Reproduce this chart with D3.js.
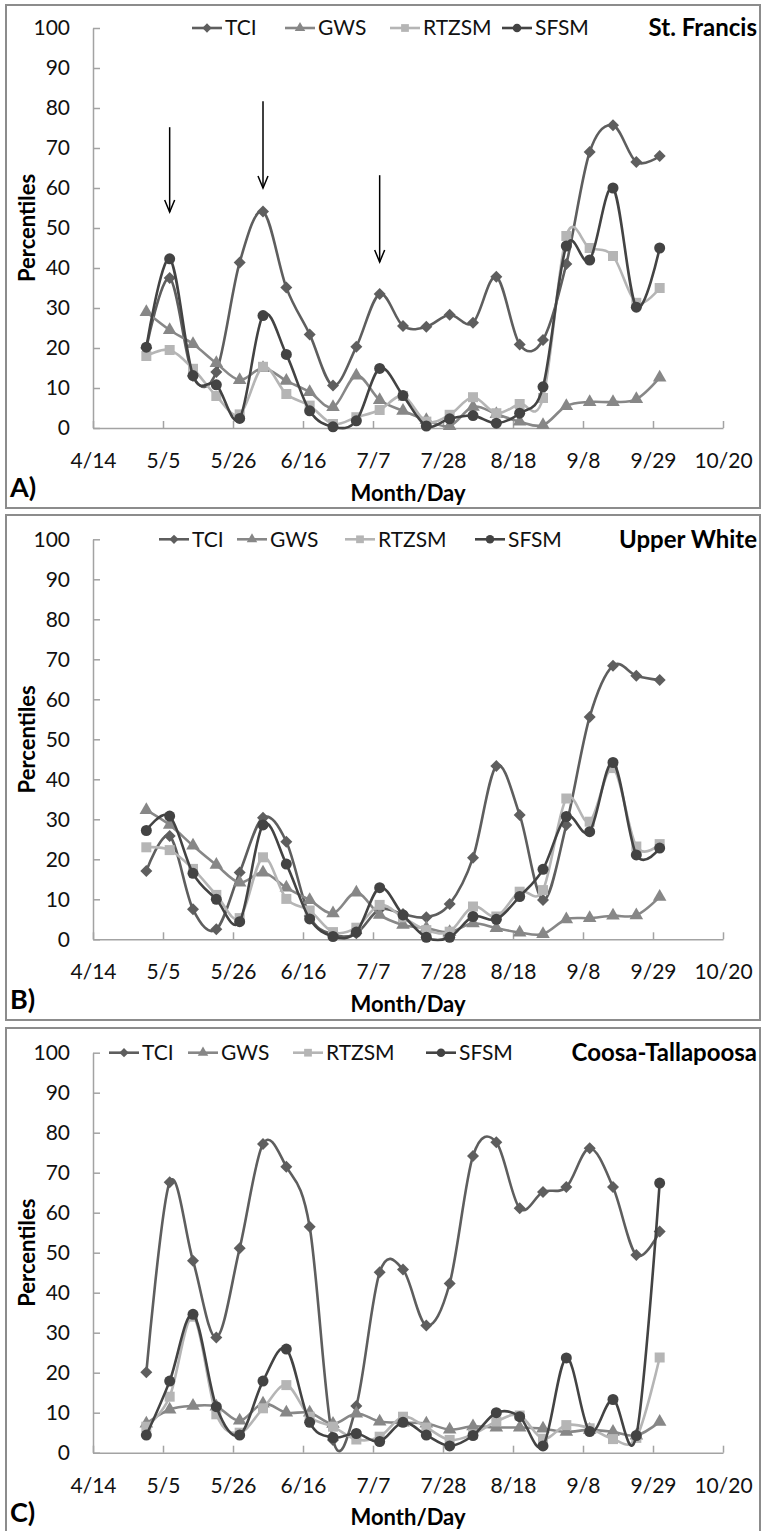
<!DOCTYPE html>
<html>
<head>
<meta charset="utf-8">
<script src="https://cdn.jsdelivr.net/npm/d3@7"></script>
<style>
body { margin: 0; background: #fff; }
svg { display: block; font-family: Lato, "Open Sans", sans-serif; }
</style>
</head>
<body>
<script>
// weekly observation dates (month/day)
var dates = ["4/30","5/7","5/14","5/21","5/28","6/4","6/11","6/18","6/25","7/2","7/9","7/16",
             "7/23","7/30","8/6","8/13","8/20","8/27","9/3","9/10","9/17","9/24","10/1"];
var xTicks = ["4/14","5/5","5/26","6/16","7/7","7/28","8/18","9/8","9/29","10/20"];
var yTicks = [0,10,20,30,40,50,60,70,80,90,100];
var seriesNames = ["TCI","GWS","RTZSM","SFSM"];

// A) St. Francis
var stFrancisTCI   = [20, 37.5, 13, 14, 41.4, 54.1, 35.1, 23.4, 10.6, 20.3, 33.5, 25.5, 25.3, 28.3, 26.3, 37.8, 20.9, 22, 41, 69, 75.7, 66.5, 68];
var stFrancisGWS   = [29, 24.5, 21, 16.2, 12, 15, 11.8, 9, 5.2, 13.1, 7, 4.3, 2, 0.5, 5.3, 3.5, 1.6, 0.7, 5.5, 6.5, 6.5, 7.2, 12.6];
var stFrancisRTZSM = [18, 19.5, 14.8, 8, 3.4, 15.3, 8.5, 5.6, 1, 2.7, 4.5, 8, 1.6, 3.3, 7.7, 3.7, 6, 7.5, 48, 45, 43, 31.3, 35];
var stFrancisSFSM  = [20.2, 42.3, 13.1, 10.8, 2.4, 28.1, 18.4, 4.3, 0.3, 1.8, 14.9, 8.1, 0.5, 2.3, 3.1, 1.2, 3.7, 10.3, 45.5, 42, 60, 30.2, 45];

// B) Upper White
var upperWhiteTCI   = [17.1, 25.8, 7.5, 2.5, 16.7, 30.4, 24.4, 5.8, 1.2, 1.5, 7.5, 6.3, 5.5, 8.8, 20.4, 43.3, 31.1, 9.8, 28.6, 55.6, 68.4, 65.9, 64.8];
var upperWhiteGWS   = [32.3, 28.6, 23.4, 18.6, 14.2, 16.7, 12.9, 9.8, 6.5, 11.7, 6.1, 3.6, 2.8, 1.8, 4, 2.8, 1.7, 1.3, 5, 5.3, 5.9, 6, 10.6];
var upperWhiteRTZSM = [23, 22.3, 17.6, 11.1, 5.3, 20.5, 10.1, 7.2, 1.8, 2.9, 8.6, 5.5, 2.3, 1.9, 8.2, 5.7, 11.9, 12.3, 35.2, 29.4, 42.8, 23.2, 23.8];
var upperWhiteSFSM  = [27.2, 30.8, 16.5, 10, 4.4, 28.6, 18.8, 5.1, 0.7, 1.8, 12.9, 6.1, 0.5, 0.5, 5.7, 5, 10.7, 17.5, 30.7, 26.9, 44.2, 21.1, 22.8];

// C) Coosa-Tallapoosa
var coosaTCI   = [20.1, 67.6, 48, 28.8, 51.1, 77.2, 71.5, 56.5, 3.2, 11.7, 45.1, 45.8, 31.8, 42.3, 74.2, 77.6, 61.1, 65.2, 66.4, 76.1, 66.4, 49.4, 55.3];
var coosaGWS   = [7.3, 10.8, 11.7, 11.5, 8, 12.3, 10, 10, 7.2, 9.8, 7.8, 7.5, 7.3, 5.8, 6.6, 6.3, 6.3, 6, 5.2, 5.7, 5.2, 4.3, 7.7];
var coosaRTZSM = [6.5, 14, 34, 9.6, 5, 11.1, 16.9, 9, 6.5, 3.3, 4, 9, 6.3, 3.2, 4.6, 7.8, 9.3, 3.5, 6.9, 6.1, 3.4, 3.7, 23.8];
var coosaSFSM  = [4.4, 17.9, 34.6, 11.5, 4.4, 17.9, 25.9, 7.6, 3.8, 4.8, 2.8, 7.6, 4.4, 1.7, 4.3, 10, 9, 1.7, 23.7, 5.3, 13.3, 4.3, 67.4];

// arrows drawn on panel A (date, from value, to value)
var arrowDates = ["5/7","6/4","7/9"];
var arrowFrom  = [75.2, 81.7, 63.2];
var arrowTo    = [54, 60, 41.5];

var width = 762, height = 1531;
var colors  = ["#5e5e5e","#878787","#b5b5b5","#434343"];
var symbols = [d3.symbolSquare, d3.symbolTriangle, d3.symbolSquare, d3.symbolCircle];
var symSize = [72, 80, 100, 95];
var symRot  = [45, 0, 0, 0];

var parse = d3.timeParse("%m/%d/%Y");
function toDate(s) { return parse(s + "/2012"); }

var svg = d3.select("body").append("svg").attr("width", width).attr("height", height);

var x = d3.scaleTime().domain([toDate("4/14"), toDate("10/20")]).range([93, 723]);

var panels = [
  {title: "St. Francis", letter: "A)", top: 5, bottom: 508, y0: 428,
   data: [stFrancisTCI, stFrancisGWS, stFrancisRTZSM, stFrancisSFSM],
   legendX: [192, 285, 390, 502], arrows: true},
  {title: "Upper White", letter: "B)", top: 515, bottom: 1020, y0: 939.3,
   data: [upperWhiteTCI, upperWhiteGWS, upperWhiteRTZSM, upperWhiteSFSM],
   legendX: [159, 237, 345, 475], arrows: false},
  {title: "Coosa-Tallapoosa", letter: "C)", top: 1028, bottom: 1540, y0: 1452.7,
   data: [coosaTCI, coosaGWS, coosaRTZSM, coosaSFSM],
   legendX: [109, 188, 293, 426], arrows: false}
];

panels.forEach(drawPanel);

function marker(sel, i, scale) {
  sel.attr("d", d3.symbol().type(symbols[i]).size(symSize[i] * scale))
     .attr("fill", colors[i]);
}

function drawPanel(p) {
  var g = svg.append("g");

  g.append("rect")
    .attr("x", 6).attr("y", p.top)
    .attr("width", 754).attr("height", p.bottom - p.top)
    .attr("fill", "none").attr("stroke", "#8c8c8c").attr("stroke-width", 2);

  var y = d3.scaleLinear().domain([0, 100]).range([p.y0, p.y0 - 400]);

  // axes
  var yAxis = g.append("g")
    .attr("transform", "translate(" + x.range()[0] + ",0)")
    .call(d3.axisLeft(y).tickValues(yTicks).tickSizeInner(-7).tickSizeOuter(0).tickPadding(23));
  var xAxis = g.append("g")
    .attr("transform", "translate(0," + p.y0 + ")")
    .call(d3.axisBottom(x).tickValues(xTicks.map(toDate))
      .tickFormat(d3.timeFormat("%-m/%-d")).tickSizeInner(-7).tickSizeOuter(0).tickPadding(25));
  [yAxis, xAxis].forEach(function(a) {
    a.selectAll("path, line").attr("stroke", "#a3a3a3").attr("stroke-width", 1.5);
    a.selectAll("text").attr("font-size", 21).attr("font-family", "Lato, sans-serif").attr("fill", "#111");
  });

  g.append("text")
    .attr("transform", "translate(27," + y(50) + ") rotate(-90)")
    .attr("text-anchor", "middle").attr("dy", "0.35em")
    .attr("font-size", 22).attr("font-weight", "bold")
    .text("Percentiles");

  g.append("text")
    .attr("x", (x.range()[0] + x.range()[1]) / 2).attr("y", p.y0 + 65)
    .attr("text-anchor", "middle").attr("dy", "0.35em")
    .attr("font-size", 22).attr("font-weight", "bold")
    .text("Month/Day");

  g.append("text")
    .attr("x", 10).attr("y", p.y0 + 60)
    .attr("dy", "0.35em")
    .attr("font-size", 27).attr("font-weight", "bold")
    .text(p.letter);

  // series
  var line = d3.line()
    .x(function(d) { return x(d.date); })
    .y(function(d) { return y(d.v); })
    .curve(d3.curveCardinal.tension(0));

  p.data.forEach(function(vals, i) {
    var pts = vals.map(function(v, k) { return {date: toDate(dates[k]), v: v}; });
    var s = g.append("g");
    s.append("path").datum(pts)
      .attr("d", line).attr("fill", "none")
      .attr("stroke", colors[i]).attr("stroke-width", 2.6);
    s.selectAll(".m").data(pts).enter().append("path")
      .attr("transform", function(d) {
        return "translate(" + x(d.date) + "," + y(d.v) + ") rotate(" + symRot[i] + ")";
      })
      .call(marker, i, 1);
  });

  // legend
  var ly = p.y0 - 400;
  seriesNames.forEach(function(name, i) {
    var lx = p.legendX[i];
    g.append("line")
      .attr("x1", lx).attr("x2", lx + 30).attr("y1", ly).attr("y2", ly)
      .attr("stroke", colors[i]).attr("stroke-width", 2.6);
    g.append("path")
      .attr("transform", "translate(" + (lx + 15) + "," + ly + ") rotate(" + symRot[i] + ")")
      .call(marker, i, 0.6);
    g.append("text")
      .attr("x", lx + 33).attr("y", ly).attr("dy", "0.35em")
      .attr("font-size", 21).attr("fill", "#111")
      .text(name);
  });
  g.append("text")
    .attr("x", 757).attr("y", ly).attr("dy", "0.35em")
    .attr("text-anchor", "end")
    .attr("font-size", 24).attr("font-weight", "bold")
    .text(p.title);

  if (p.arrows) {
    arrowDates.forEach(function(dt, k) {
      var ax = x(toDate(dt)), a1 = y(arrowFrom[k]), a2 = y(arrowTo[k]);
      g.append("line")
        .attr("x1", ax).attr("x2", ax).attr("y1", a1).attr("y2", a2)
        .attr("stroke", "#000").attr("stroke-width", 1.5);
      g.append("path")
        .attr("d", "M" + (ax - 5) + "," + (a2 - 12) + "L" + ax + "," + a2 + "L" + (ax + 5) + "," + (a2 - 12))
        .attr("fill", "none").attr("stroke", "#000").attr("stroke-width", 1.5);
    });
  }
}
</script>
</body>
</html>
